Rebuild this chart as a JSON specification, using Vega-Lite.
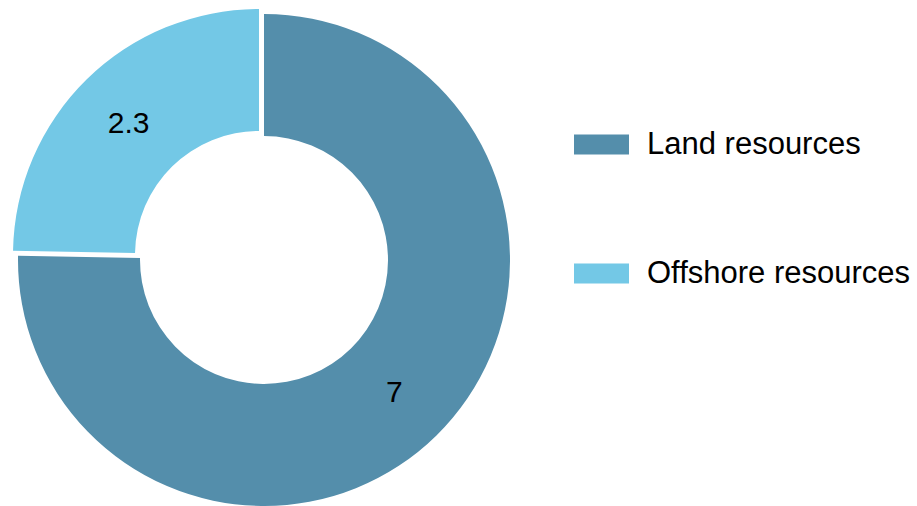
{
  "$schema": "https://vega.github.io/schema/vega-lite/v6.json",
  "width": 528,
  "height": 492,
  "autosize": {"type": "none"},
  "padding": {"left": 0, "top": 14, "right": 389, "bottom": 0},
  "background": "white",
  "config": {"view": {"stroke": null}},
  "data": {
    "values": [
      {"source": "Land resources", "value": 7},
      {"source": "Offshore resources", "value": 2.3}
    ]
  },
  "encoding": {
    "theta": {"field": "value", "type": "quantitative", "stack": true, "scale": {"nice": false}},
    "color": {
      "field": "source",
      "type": "nominal",
      "scale": {"domain": ["Land resources", "Offshore resources"], "range": ["#548EAB", "#73C8E6"]},
      "legend": {
        "title": null,
        "orient": "none",
        "legendX": 574,
        "legendY": 103,
        "padding": 0,
        "symbolType": "M-1,-0.364H1V0.364H-1Z",
        "symbolSize": 3025,
        "symbolStrokeWidth": 0,
        "symbolOpacity": 1,
        "labelFont": "Liberation Sans",
        "labelFontSize": 31,
        "labelColor": "#000000",
        "labelOffset": 18,
        "labelLimit": 400,
        "rowPadding": 86
      }
    },
    "order": {"field": "source", "type": "nominal", "sort": "ascending"}
  },
  "layer": [
    {
      "mark": {
        "type": "arc",
        "outerRadius": 246,
        "innerRadius": 124,
        "xOffset": {"expr": "datum.source == 'Offshore resources' ? -5 : 0"},
        "yOffset": {"expr": "datum.source == 'Offshore resources' ? -5 : 0"}
      }
    },
    {
      "mark": {
        "type": "text",
        "radius": 186,
        "font": "Liberation Sans",
        "fontSize": 30,
        "color": "#000000",
        "xOffset": {"expr": "datum.source == 'Offshore resources' ? -5 : 0"},
        "yOffset": {"expr": "datum.source == 'Offshore resources' ? -3 : 0"}
      },
      "encoding": {
        "text": {"field": "value", "type": "quantitative"},
        "color": {"value": "#000000"}
      }
    }
  ]
}
